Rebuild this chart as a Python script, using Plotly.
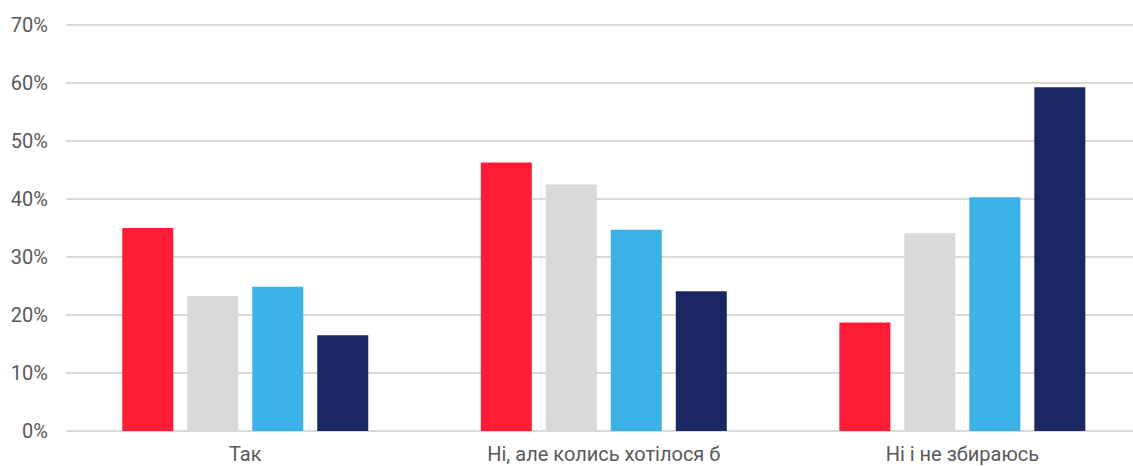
import plotly.graph_objects as go

categories = ["Так", "Ні, але колись хотілося б", "Ні і не збираюсь"]
series_a = [35.0, 46.3, 18.7]
series_b = [23.3, 42.5, 34.1]
series_c = [24.9, 34.7, 40.3]
series_d = [16.5, 24.1, 59.3]
series_names = ["A", "B", "C", "D"]
colors = ["#FF1C35", "#D9D9D9", "#3BB3E8", "#1B2763"]
y_ticks = [0, 10, 20, 30, 40, 50, 60, 70]
y_tick_labels = [f"{v}%" for v in y_ticks]

fig = go.Figure()
for name, vals, col in zip(series_names, [series_a, series_b, series_c, series_d], colors):
    fig.add_trace(go.Bar(x=categories, y=vals, name=name, marker=dict(color=col, line=dict(width=0))))

fig.update_layout(
    width=1133, height=466,
    margin=dict(l=66, r=0, t=24, b=35),
    paper_bgcolor="white", plot_bgcolor="white",
    barmode="group", bargap=0.275, bargroupgap=0.215,
    showlegend=False,
    font=dict(family="Roboto", size=20, color="#595959"),
    xaxis=dict(range=[-0.5, 2.476], showgrid=False, showline=False, ticks="",
               automargin=False,
               tickfont=dict(size=20, color="#595959"), ticklabelstandoff=9),
    yaxis=dict(range=[0, 70.2], tickvals=y_ticks, ticktext=y_tick_labels,
               automargin=False,
               showgrid=True, gridcolor="#D9D9D9", gridwidth=1.5,
               zeroline=True, zerolinecolor="#D9D9D9", zerolinewidth=1.5,
               showline=False, ticks="", ticklabelstandoff=17,
               tickfont=dict(size=20, color="#595959")),
)
fig.write_html("out.html", config={"displayModeBar": False},
               post_script="document.body.style.margin='0';document.body.style.overflow='hidden';")
